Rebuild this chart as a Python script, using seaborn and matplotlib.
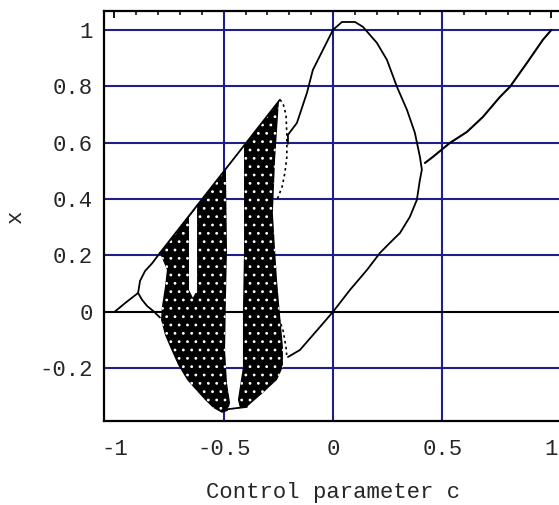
import matplotlib
matplotlib.use("Agg")
import matplotlib.pyplot as plt
import seaborn as sns
import numpy as np

# ---------------- data ----------------
# period-1 branch, left
c_fixed_left = [-1.0, -0.95, -0.892]
x_fixed_left = [0.0, 0.032, 0.067]
# period-2 branches, left
c_p2_up_left = [-0.892, -0.883, -0.86, -0.828, -0.792]
x_p2_up_left = [0.067, 0.11, 0.145, 0.172, 0.209]
c_p2_lo_left = [-0.892, -0.874, -0.851, -0.824, -0.792]
x_p2_lo_left = [0.067, 0.043, 0.021, 0.004, -0.02]
# fixed point branch, right
c_fixed_right = [0.421, 0.458, 0.535, 0.613, 0.686, 0.764, 0.810, 0.888, 0.961, 1.0]
x_fixed_right = [0.528, 0.550, 0.599, 0.638, 0.691, 0.762, 0.798, 0.883, 0.965, 1.0]
# period-2 orbit, right (upper branch then lower branch)
c_p2_loop = [-0.206, -0.206, -0.165, -0.119, -0.092, -0.046, 0.0, 0.041, 0.101, 0.137,
             0.201, 0.247, 0.293, 0.339, 0.375, 0.398, 0.407, 0.398, 0.384, 0.352,
             0.307, 0.261, 0.215, 0.156, 0.078, 0.0, -0.059, -0.151, -0.206]
x_p2_loop = [0.596, 0.628, 0.670, 0.777, 0.858, 0.929, 1.0, 1.028, 1.028, 1.011,
             0.954, 0.894, 0.798, 0.716, 0.635, 0.550, 0.504, 0.468, 0.397, 0.337,
             0.280, 0.245, 0.209, 0.149, 0.078, 0.0, -0.053, -0.135, -0.160]
# boundaries of the chaotic attractor, right side (sparse)
c_bound_up = [-0.243, -0.229, -0.215, -0.211, -0.211, -0.220, -0.233, -0.256]
x_bound_up = [0.752, 0.741, 0.699, 0.628, 0.550, 0.493, 0.443, 0.397]
c_bound_lo = [-0.256, -0.229, -0.215, -0.211]
x_bound_lo = [-0.004, -0.064, -0.124, -0.160]
# upper edge of the chaotic region
c_edge = [-0.792, -0.243]
x_edge = [0.209, 0.752]
# lower flat segment
c_floor = [-0.48, -0.394]
x_floor = [-0.345, -0.337]
# chaotic bands (outlines)
c_band_ab = [-0.792, -0.490, -0.485, -0.490, -0.494, -0.485, -0.471, -0.481, -0.508,
             -0.549, -0.586, -0.627, -0.668, -0.709, -0.746, -0.769, -0.787, -0.783,
             -0.769, -0.760]
x_band_ab = [0.209, 0.508, 0.220, 0.043, -0.135, -0.252, -0.323, -0.351, -0.358,
             -0.340, -0.312, -0.277, -0.241, -0.188, -0.124, -0.082, -0.028, 0.018,
             0.089, 0.149]
c_band_c = [-0.407, -0.247, -0.256, -0.265, -0.275, -0.265, -0.256, -0.243, -0.229,
            -0.229, -0.256, -0.320, -0.394, -0.426, -0.435, -0.412, -0.412, -0.407]
x_band_c = [0.590, 0.748, 0.645, 0.539, 0.351, 0.220, 0.113, -0.004, -0.124,
            -0.195, -0.241, -0.287, -0.337, -0.340, -0.312, -0.195, 0.007, 0.220]
# periodic window inside the left band
c_window = [-0.659, -0.622, -0.622, -0.641, -0.659]
x_window = [0.335, 0.372, 0.078, 0.050, 0.078]

# grid / ticks
x_ticks = [-1, -0.5, 0, 0.5, 1]
x_tick_labels = ["-1", "-0.5", "0", "0.5", "1"]
y_ticks = [-0.2, 0, 0.2, 0.4, 0.6, 0.8, 1]
y_tick_labels = ["-0.2", "0", "0.2", "0.4", "0.6", "0.8", "1"]
x_grid = [-0.5, 0, 0.5]
y_grid = [-0.2, 0.2, 0.4, 0.6, 0.8, 1.0]

# ---------------- drawing ----------------
sns.set_style("white")
plt.rcParams["font.family"] = ["Liberation Mono", "DejaVu Sans Mono"]
plt.rcParams["hatch.linewidth"] = 0.8

W, H = 559, 505
fig = plt.figure(figsize=(W / 100, H / 100), dpi=100)
ax = fig.add_axes([104 / W, (H - 421) / H, 459 / W, 410 / H])
ax.set_xlim(-1.048, 1.053)
ax.set_ylim(-0.387, 1.067)

navy = "#1e1e8c"
for g in x_grid:
    ax.axvline(g, color=navy, lw=1.5, zorder=1)
for g in y_grid:
    ax.axhline(g, color=navy, lw=1.5, zorder=1)
ax.axhline(0, color="black", lw=1.5, zorder=1)

# chaotic bands
for cc, xx in [(c_band_ab, x_band_ab), (c_band_c, x_band_c)]:
    ax.fill(cc, xx, facecolor="black", edgecolor="none", zorder=2)
    ax.fill(cc, xx, facecolor="none", edgecolor="white", hatch="..", lw=0, zorder=3)
ax.fill(c_window, x_window, facecolor="white", edgecolor="none", zorder=4)

kw = dict(sort=False, estimator=None, color="black", ax=ax, legend=False)
sns.lineplot(x=c_fixed_left, y=x_fixed_left, lw=1.3, zorder=5, **kw)
sns.lineplot(x=c_p2_up_left, y=x_p2_up_left, lw=1.3, zorder=5, **kw)
sns.lineplot(x=c_p2_lo_left, y=x_p2_lo_left, lw=1.3, zorder=5, **kw)
sns.lineplot(x=c_fixed_right, y=x_fixed_right, lw=1.5, zorder=5, **kw)
sns.lineplot(x=c_p2_loop, y=x_p2_loop, lw=1.3, zorder=5, **kw)
sns.lineplot(x=c_edge, y=x_edge, lw=1.3, zorder=5, **kw)
sns.lineplot(x=c_floor, y=x_floor, lw=1.3, zorder=5, **kw)
sns.lineplot(x=c_bound_up, y=x_bound_up, lw=1.2, zorder=5, **kw)
ax.lines[-1].set_linestyle((0, (1.5, 2)))
sns.lineplot(x=c_bound_lo, y=x_bound_lo, lw=1.2, zorder=5, **kw)
ax.lines[-1].set_linestyle((0, (1.5, 2)))

# frame and ticks
for s in ax.spines.values():
    s.set_color("black")
    s.set_linewidth(1.6)
ax.set_xticks(x_ticks)
ax.set_xticklabels(x_tick_labels)
ax.set_yticks(y_ticks)
ax.set_yticklabels(y_tick_labels)
ax.set_xticks(np.arange(-1.0, 1.05, 0.1), minor=True)
ax.set_yticks(np.arange(-0.35, 1.06, 0.05), minor=True)
ax.tick_params(which="both", direction="in", top=True, right=True, color="black")
ax.tick_params(which="major", length=5, width=1.3, labelsize=16)
ax.tick_params(which="minor", length=3, width=1.1)
ax.tick_params(axis="x", which="major", pad=13)
ax.tick_params(axis="y", which="major", pad=8)
ax.grid(False)

ax.set_xlabel("Control parameter c", fontsize=16, labelpad=16)
ax.set_ylabel("x", fontsize=16)
ax.yaxis.set_label_coords(-0.17, 0.5)

fig.savefig("out.png", dpi=100)
